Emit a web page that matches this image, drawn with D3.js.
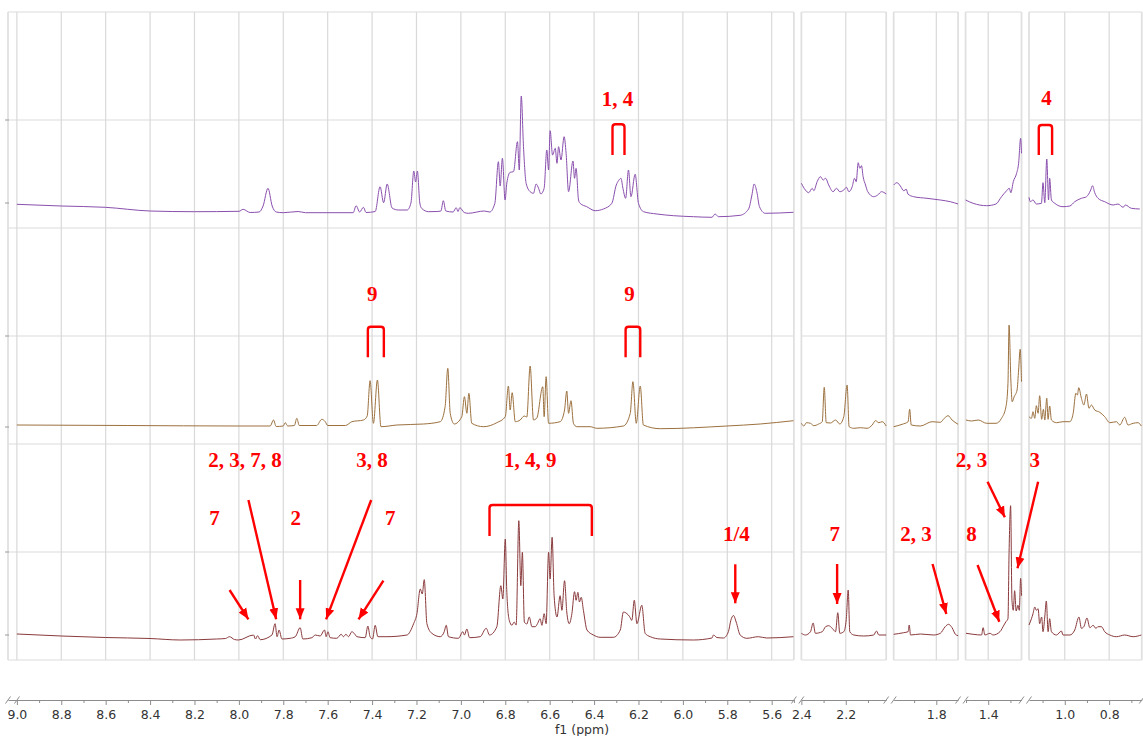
<!DOCTYPE html>
<html lang="en">
<head>
<meta charset="UTF-8">
<title>Stacked 1H NMR spectra</title>
<script src="https://d3js.org/d3.v7.min.js"></script>
<style>
  body { margin: 0; background: #fff; }
  svg { display: block; }
  .tick text { font-family: "DejaVu Sans", Verdana, sans-serif; font-size: 12.5px; fill: #333; }
  .axis-title { font-family: "DejaVu Sans", Verdana, sans-serif; font-size: 12.5px; fill: #333; }
  .note { font-family: "Liberation Serif", "Times New Roman", serif; font-weight: bold; font-size: 21px; fill: #f00; }
</style>
</head>
<body>
<div id="chart"></div>
<script>
// ppm windows kept on the broken axis, left to right
const segments = [[9.04, 5.50], [2.40, 2.018], [1.992, 1.702], [1.502, 1.25], [1.161, 0.653]];
const tickLabels = [9.0, 8.8, 8.6, 8.4, 8.2, 8.0, 7.8, 7.6, 7.4, 7.2, 7.0, 6.8, 6.6, 6.4, 6.2, 6.0, 5.8, 5.6, 2.4, 2.2, 1.8, 1.4, 1.0, 0.8];

// spectra: [ppm, intensity], intensity in arbitrary units (0..216 per band)
const topSpectrum = [
  [9.000,23.7],[8.800,22.0],[8.602,20.7],[8.400,17.0],[8.201,16.3],[7.999,16.7],[7.981,18.7],[7.949,15.5],[7.909,16.0],[7.891,22.0],[7.869,39.7],[7.850,22.0],[7.832,16.0],[7.800,15.3],[7.733,16.5],[7.700,15.3],[7.485,15.3],[7.472,22.3],[7.456,16.0],[7.439,20.7],[7.427,15.5],[7.386,16.5],[7.364,41.3],[7.348,25.3],[7.332,44.0],[7.310,20.0],[7.282,18.0],[7.242,18.0],[7.225,25.0],[7.212,57.0],[7.204,46.0],[7.196,57.0],[7.185,25.0],[7.177,19.7],[7.145,16.3],[7.107,16.5],[7.090,17.0],[7.079,27.3],[7.068,17.0],[7.035,16.0],[7.021,20.3],[7.013,16.5],[7.005,20.3],[6.985,15.5],[6.967,14.7],[6.895,17.0],[6.870,16.0],
  [6.847,24.7],[6.831,66.3],[6.823,42.0],[6.813,69.7],[6.801,28.0],[6.793,45.0],[6.778,55.7],[6.763,56.3],[6.745,86.3],[6.737,58.0],[6.728,132.0],[6.718,81.3],[6.706,44.7],[6.688,36.3],[6.673,34.7],[6.661,44.0],[6.650,39.7],[6.640,34.0],[6.625,39.7],[6.613,78.0],[6.605,58.0],[6.598,97.3],[6.587,73.0],[6.575,79.7],[6.567,64.7],[6.560,81.3],[6.549,68.0],[6.535,91.3],[6.526,74.7],[6.515,36.3],[6.495,67.0],[6.488,49.7],[6.481,59.7],[6.470,28.0],[6.463,24.7],[6.433,21.3],[6.395,17.3],[6.358,19.0],[6.320,24.7],[6.300,43.0],[6.290,47.3],[6.279,49.7],[6.270,39.7],[6.258,29.7],[6.245,58.0],[6.234,31.3],[6.215,53.7],[6.200,24.7],[6.177,16.3],[6.117,14.0],[6.042,12.3],[5.952,11.3],[5.869,10.7],[5.855,14.0],[5.840,11.3],[5.742,12.7],[5.704,19.0],[5.689,33.0],[5.679,44.0],[5.667,36.3],[5.655,21.3],[5.629,14.7],[5.502,15.7],
  [2.400,44.7],[2.382,38.0],[2.367,35.3],[2.351,39.7],[2.344,37.3],[2.329,46.3],[2.314,51.3],[2.302,48.0],[2.291,49.7],[2.277,43.0],[2.257,36.3],[2.242,39.7],[2.227,36.3],[2.209,38.0],[2.197,40.7],[2.186,36.3],[2.171,41.3],[2.161,49.7],[2.153,46.3],[2.144,65.3],[2.137,59.7],[2.129,62.3],[2.122,51.3],[2.111,43.0],[2.101,36.3],[2.074,31.3],[2.056,33.0],[2.039,36.3],[2.018,34.0],
  [1.992,43.0],[1.977,45.3],[1.962,42.0],[1.947,37.3],[1.935,38.7],[1.928,34.0],[1.902,31.3],[1.842,29.7],[1.782,28.0],[1.737,26.3],[1.702,24.0],
  [1.502,28.0],[1.468,24.7],[1.407,22.3],[1.365,24.0],[1.340,31.3],[1.317,37.3],[1.305,39.7],[1.298,35.3],[1.287,46.3],[1.272,54.7],[1.263,64.7],[1.254,89.7],[1.250,74.7],
  [1.161,30.7],[1.155,26.3],[1.143,28.0],[1.128,24.0],[1.105,24.7],[1.098,45.3],[1.090,25.3],[1.081,69.0],[1.073,28.0],[1.068,49.7],[1.060,28.0],[1.045,24.7],[1.008,21.3],[0.977,22.0],[0.955,26.3],[0.925,29.7],[0.902,31.3],[0.883,38.0],[0.875,42.3],[0.865,35.3],[0.850,29.7],[0.820,26.3],[0.782,23.0],[0.760,24.0],[0.737,20.7],[0.727,23.0],[0.700,19.7],[0.662,19.0]
];

const middleSpectrum = [
  [9.000,19.0],[8.500,18.5],[8.000,18.0],[7.859,18.0],[7.844,24.0],[7.832,17.5],[7.800,18.0],[7.791,21.3],[7.780,18.0],[7.750,18.5],[7.739,25.7],[7.728,18.5],[7.650,18.5],[7.626,24.7],[7.611,22.3],[7.600,18.5],[7.520,18.5],[7.491,22.3],[7.439,24.0],[7.422,28.0],[7.409,63.3],[7.394,20.7],[7.376,64.0],[7.360,17.3],[7.288,19.0],[7.168,20.0],[7.093,22.3],[7.071,37.3],[7.059,75.7],[7.048,30.7],[7.030,20.0],[6.996,27.3],[6.984,47.3],[6.973,30.7],[6.964,50.7],[6.951,20.7],[6.898,17.3],[6.838,21.3],[6.800,27.3],[6.786,58.0],[6.778,34.0],[6.769,51.3],[6.755,22.3],[6.733,24.0],[6.715,28.0],[6.703,27.0],[6.688,78.0],[6.673,24.0],[6.658,26.0],[6.631,57.3],[6.625,27.3],[6.616,67.3],[6.605,20.7],[6.553,22.3],[6.533,34.0],[6.523,53.0],[6.515,30.7],[6.504,43.3],[6.493,20.7],[6.478,17.3],[6.418,17.3],[6.387,15.7],[6.268,18.0],[6.237,30.7],[6.225,62.3],[6.210,20.7],[6.192,58.0],[6.178,19.0],[6.102,15.3],[5.802,18.0],[5.652,20.0],[5.502,23.3],
  [2.400,20.7],[2.389,18.0],[2.377,21.3],[2.359,20.7],[2.344,18.3],[2.322,20.0],[2.306,22.3],[2.297,56.7],[2.288,21.3],[2.269,21.0],[2.246,24.0],[2.227,20.0],[2.209,27.3],[2.194,59.0],[2.185,17.3],[2.164,15.7],[2.134,16.3],[2.104,15.7],[2.081,19.0],[2.066,23.3],[2.051,21.3],[2.036,22.3],[2.018,18.0],
  [1.992,17.3],[1.954,19.7],[1.927,22.3],[1.920,34.7],[1.913,19.0],[1.872,18.0],[1.819,22.3],[1.782,21.7],[1.764,25.7],[1.747,28.3],[1.729,24.0],[1.702,19.7],
  [1.500,24.0],[1.475,23.0],[1.445,24.0],[1.407,20.7],[1.365,20.7],[1.340,25.7],[1.320,37.3],[1.311,60.7],[1.306,119.0],[1.298,64.0],[1.292,42.3],[1.283,47.3],[1.270,54.0],[1.263,74.0],[1.256,94.7],[1.250,62.3],
  [1.161,27.3],[1.150,25.7],[1.143,32.3],[1.135,25.7],[1.128,38.3],[1.120,30.7],[1.113,48.3],[1.104,24.7],[1.096,34.7],[1.090,24.0],[1.081,45.7],[1.075,24.7],[1.068,38.0],[1.060,24.0],[1.037,21.3],[1.008,22.3],[0.977,22.3],[0.962,30.7],[0.950,50.7],[0.943,49.0],[0.937,56.3],[0.925,45.7],[0.914,39.0],[0.902,50.0],[0.891,35.7],[0.880,39.0],[0.865,34.0],[0.842,31.7],[0.820,27.3],[0.797,21.3],[0.767,22.3],[0.752,19.0],[0.730,26.7],[0.715,19.0],[0.692,20.7],[0.670,21.3],[0.655,18.0]
];

const bottomSpectrum = [
  [9.000,26.0],[8.800,24.0],[8.602,22.5],[8.400,21.5],[8.264,20.0],[8.100,21.0],[8.060,21.5],[8.042,23.3],[8.020,20.5],[8.002,20.0],[7.934,25.0],[7.925,21.0],[7.916,24.3],[7.904,20.3],[7.851,25.0],[7.837,36.3],[7.828,23.3],[7.819,30.0],[7.806,21.0],[7.769,21.7],[7.746,23.3],[7.724,32.3],[7.712,21.0],[7.671,22.3],[7.656,25.0],[7.634,24.0],[7.614,30.0],[7.607,23.3],[7.599,28.3],[7.589,22.3],[7.559,21.7],[7.539,25.7],[7.529,23.3],[7.518,25.7],[7.506,23.3],[7.491,28.3],[7.481,26.7],[7.468,23.3],[7.431,22.3],[7.419,34.0],[7.409,23.3],[7.398,21.0],[7.386,34.7],[7.374,23.3],[7.333,23.3],[7.243,25.0],[7.213,36.3],[7.198,46.3],[7.183,71.0],[7.174,66.0],[7.165,80.3],[7.153,36.3],[7.131,26.7],[7.093,23.3],[7.075,28.3],[7.066,34.7],[7.056,23.3],[7.011,21.7],[6.991,28.3],[6.984,25.0],[6.973,31.0],[6.961,22.3],[6.913,23.3],[6.886,31.7],[6.871,25.0],[6.838,33.3],
  [6.820,74.3],[6.811,61.0],[6.800,121.0],[6.793,67.7],[6.782,39.7],[6.770,34.7],[6.760,38.0],[6.751,35.0],[6.739,139.3],[6.730,74.3],[6.723,107.7],[6.714,38.0],[6.703,36.0],[6.692,43.0],[6.680,33.3],[6.665,33.3],[6.655,36.3],[6.643,41.3],[6.635,34.7],[6.625,46.3],[6.616,36.3],[6.605,107.7],[6.598,81.0],[6.589,122.7],[6.580,64.3],[6.567,43.0],[6.553,64.3],[6.545,49.7],[6.533,79.3],[6.523,48.0],[6.512,36.3],[6.500,46.3],[6.488,68.3],[6.481,59.7],[6.473,67.7],[6.466,58.0],[6.458,62.7],[6.448,49.7],[6.432,30.0],[6.403,25.0],[6.373,22.7],[6.313,22.7],[6.282,30.0],[6.268,48.0],[6.252,46.3],[6.241,43.7],[6.230,39.7],[6.219,59.7],[6.207,36.3],[6.185,54.7],[6.170,26.7],[6.147,23.3],[6.102,21.0],[5.952,20.0],[5.869,22.0],[5.862,25.0],[5.847,22.5],[5.817,22.0],[5.795,28.3],[5.784,39.7],[5.772,44.5],[5.760,38.0],[5.742,25.0],[5.712,21.7],[5.660,23.3],[5.622,22.0],[5.502,23.3],
  [2.400,26.7],[2.382,25.0],[2.359,28.3],[2.347,37.0],[2.337,26.7],[2.306,28.3],[2.291,33.3],[2.277,34.3],[2.261,31.7],[2.246,28.3],[2.236,47.3],[2.227,26.7],[2.209,28.3],[2.198,40.3],[2.189,70.0],[2.182,28.3],[2.164,25.0],[2.119,24.0],[2.074,25.0],[2.062,29.0],[2.051,25.0],[2.018,25.0],
  [1.992,25.7],[1.947,27.3],[1.927,28.3],[1.922,35.0],[1.916,25.0],[1.872,26.0],[1.812,25.0],[1.782,26.7],[1.760,33.3],[1.745,35.7],[1.729,32.3],[1.714,25.7],[1.702,24.3],
  [1.500,26.7],[1.468,25.7],[1.430,25.0],[1.423,32.3],[1.415,25.0],[1.392,26.7],[1.378,25.0],[1.347,28.3],[1.329,35.0],[1.320,38.3],[1.311,41.3],[1.306,107.7],[1.299,154.3],[1.293,59.7],[1.287,49.7],[1.281,69.3],[1.274,49.0],[1.266,54.7],[1.260,49.7],[1.254,81.7],[1.250,64.3],
  [1.161,35.0],[1.150,41.3],[1.143,46.3],[1.135,53.0],[1.128,49.7],[1.120,51.3],[1.113,36.3],[1.104,43.0],[1.098,28.3],[1.090,43.0],[1.083,59.0],[1.075,28.3],[1.068,41.3],[1.060,28.3],[1.037,25.0],[1.015,29.0],[1.008,25.0],[0.977,25.0],[0.955,30.0],[0.936,43.0],[0.925,31.7],[0.914,33.3],[0.900,42.0],[0.887,32.3],[0.872,34.7],[0.860,31.7],[0.850,33.3],[0.835,33.3],[0.820,28.3],[0.797,25.0],[0.767,23.3],[0.730,25.0],[0.692,23.3],[0.655,25.0]
];

const traceColors = ["#8a4fae", "#9c713f", "#8a3a3c"];

// assignment notes: [trace, text, ppm, intensity]
const labels = [
  [0, "1, 4", 6.294, 122], [0, "4", 1.082, 123],
  [1, "9", 7.399, 143.3], [1, "9", 6.241, 143.3],
  [2, "2, 3, 7, 8", 7.972, 193.3], [2, "3, 8", 7.400, 193.3], [2, "1, 4, 9", 6.688, 193.3],
  [2, "7", 8.110, 135], [2, "2", 7.744, 135], [2, "7", 7.318, 135],
  [2, "1/4", 5.759, 119.3], [2, "7", 2.250, 119], [2, "2, 3", 1.891, 119], [2, "8", 1.475, 119],
  [2, "2, 3", 1.475, 193.3], [2, "3", 1.135, 193.3]
];
// arrows on the bottom trace: [[ppm, intensity] from, [ppm, intensity] to]
const arrows = [
  [[8.042, 70], [7.957, 40.7]], [[7.957, 160], [7.832, 40.7]], [[7.724, 80], [7.724, 40.7]],
  [[7.404, 160], [7.607, 40.7]], [[7.349, 79.3], [7.461, 40.7]], [[5.764, 95.7], [5.764, 56.7]],
  [[2.239, 96], [2.239, 56]], [[1.817, 96], [1.755, 46]], [[1.448, 95], [1.350, 38.3]],
  [[1.403, 178.3], [1.325, 142.7]], [[1.120, 178.3], [1.268, 91.7]]
];
// brackets: [trace, ppm left, ppm right, top, bottom]
const brackets = [
  [0, 6.317, 6.263, 103.7, 73], [0, 1.117, 1.057, 103, 73],
  [1, 7.419, 7.347, 117.3, 86.7], [1, 6.258, 6.192, 117.3, 86.7],
  [2, 6.871, 6.410, 155, 124]
];
// small intensity marks on the left edge: [trace, intensity]
const leftMarks = [[0, 108], [0, 25], [1, 108], [1, 17], [2, 108], [2, 25]];

const W = 1143, H = 736;
const plotTop = 12, bandH = 216, axisY = 700;
const pxPerPpm = 222, gap = 7.5, left = 8;

const svg = d3.select("#chart").append("svg").attr("width", W).attr("height", H);

let cursor = left;
const xs = segments.map(([a, b]) => {
  const w = (a - b) * pxPerPpm;
  const s = d3.scaleLinear().domain([a, b]).range([cursor, cursor + w]);
  cursor += w + gap;
  return s;
});
const inSeg = (s, p) => p <= s.domain()[0] + 1e-6 && p >= s.domain()[1] - 1e-6;
const xOf = p => { const s = xs.find(s => inSeg(s, p)); return s(p); };

const ys = [0, 1, 2].map(i => d3.scaleLinear().domain([0, bandH]).range([plotTop + (i + 1) * bandH, plotTop + i * bandH]));
const gridH = d3.range(0, 7).map(k => plotTop + k * bandH / 2);

// grid
const grid = svg.append("g");
xs.forEach(s => {
  const [x0, x1] = s.range();
  gridH.forEach(y => grid.append("line").attr("x1", x0).attr("x2", x1).attr("y1", y).attr("y2", y)
    .attr("stroke", "#dcdcdc").attr("stroke-width", 1.2));
  tickLabels.filter(t => inSeg(s, t) && s(t) > x0 + 2 && s(t) < x1 - 2).forEach(t =>
    grid.append("line").attr("x1", s(t)).attr("x2", s(t)).attr("y1", plotTop).attr("y2", plotTop + 3 * bandH)
      .attr("stroke", "#d9d9d9").attr("stroke-width", 1.2));
  [x0, x1].forEach(x => grid.append("line").attr("x1", x).attr("x2", x).attr("y1", plotTop).attr("y2", plotTop + 3 * bandH)
    .attr("stroke", "#e0e0e0").attr("stroke-width", 1.8));
});

leftMarks.forEach(([t, v]) => svg.append("line").attr("x1", left - 3).attr("x2", left + 1)
  .attr("y1", ys[t](v)).attr("y2", ys[t](v)).attr("stroke", "#999").attr("stroke-width", 1));

// spectra
[topSpectrum, middleSpectrum, bottomSpectrum].forEach((spec, i) => {
  xs.forEach(s => {
    const pts = spec.filter(d => inSeg(s, d[0]));
    svg.append("path").datum(pts)
      .attr("fill", "none").attr("stroke", traceColors[i]).attr("stroke-width", 1)
      .attr("stroke-linejoin", "round")
      .attr("d", d3.line().curve(d3.curveMonotoneX).x(d => s(d[0])).y(d => ys[i](d[1])));
  });
});

// x axis, one piece per window
xs.forEach(s => {
  const majors = tickLabels.filter(t => inSeg(s, t));
  const [a, b] = s.domain();
  const minors = d3.range(Math.ceil(b * 10 - 1e-6), Math.floor(a * 10 + 1e-6) + 1).map(v => v / 10)
    .filter(v => !majors.some(m => Math.abs(m - v) < 1e-6));
  const gMin = svg.append("g").attr("transform", `translate(0,${axisY})`)
    .call(d3.axisBottom(s).tickValues(minors).tickSize(3).tickSizeOuter(0).tickFormat(""));
  const gMaj = svg.append("g").attr("transform", `translate(0,${axisY})`)
    .call(d3.axisBottom(s).tickValues(majors).tickSize(5).tickSizeOuter(0).tickPadding(5).tickFormat(d3.format(".1f")));
  [gMin, gMaj].forEach(g => { g.selectAll("line, path").attr("stroke", "#8c8c8c"); });
  gMaj.select(".domain").remove();
  // break marks at both ends
  s.range().forEach(x => svg.append("line").attr("x1", x - 2.5).attr("x2", x + 2.5)
    .attr("y1", axisY + 3.5).attr("y2", axisY - 3.5).attr("stroke", "#8c8c8c").attr("stroke-width", 1));
});
svg.append("line").attr("x1", left + 9 - 2.5).attr("x2", left + 9 + 2.5)
  .attr("y1", axisY + 3.5).attr("y2", axisY - 3.5).attr("stroke", "#8c8c8c").attr("stroke-width", 1);

svg.append("text").attr("class", "axis-title").attr("x", 582).attr("y", 734)
  .attr("text-anchor", "middle").text("f1 (ppm)");

// annotations
const red = "#f00";
svg.append("defs").append("marker").attr("id", "head")
  .attr("markerUnits", "userSpaceOnUse").attr("markerWidth", 12).attr("markerHeight", 10)
  .attr("refX", 11).attr("refY", 5).attr("orient", "auto")
  .append("path").attr("d", "M0,0.5 L11,5 L0,9.5 Z").attr("fill", red);

arrows.forEach(([p, q]) => svg.append("line")
  .attr("x1", xOf(p[0])).attr("y1", ys[2](p[1])).attr("x2", xOf(q[0])).attr("y2", ys[2](q[1]))
  .attr("stroke", red).attr("stroke-width", 2.4).attr("marker-end", "url(#head)"));

brackets.forEach(([t, pl, pr, top, bot]) => {
  const xl = xOf(pl), xr = xOf(pr), yt = ys[t](top), yb = ys[t](bot), r = 3;
  svg.append("path")
    .attr("d", `M${xl},${yb} L${xl},${yt + r} Q${xl},${yt} ${xl + r},${yt} L${xr - r},${yt} Q${xr},${yt} ${xr},${yt + r} L${xr},${yb}`)
    .attr("fill", "none").attr("stroke", red).attr("stroke-width", 2.4);
});

labels.forEach(([t, txt, p, v]) => svg.append("text").attr("class", "note")
  .attr("x", xOf(p)).attr("y", ys[t](v)).attr("text-anchor", "middle").text(txt));
</script>
</body>
</html>
